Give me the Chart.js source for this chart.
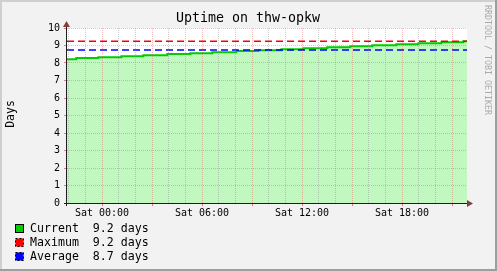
<!DOCTYPE html>
<html lang="en">
<head>
<meta charset="UTF-8">
<title>Uptime on thw-opkw</title>
<script src="https://cdnjs.cloudflare.com/ajax/libs/Chart.js/4.4.1/chart.umd.js"></script>
<style>
    html, body {
        margin: 0;
        padding: 0;
        background: #f2f2f2;
    }
    #wrap {
        width: 497px;
        height: 271px;
    }
</style>
</head>
<body>
<div id="wrap"><canvas id="uptimeChart" width="497" height="271"></canvas></div>
<script>
    // hours relative to Sat 00:00 where each uptime step starts
    const stepHours = [-2.1, -1.54, -0.22, 1.16, 2.48, 3.92, 5.30, 6.62, 8.06, 9.38,
                       10.76, 12.08, 13.52, 14.90, 16.22, 17.66, 18.98, 20.36, 21.68];
    // uptime in days for each step
    const uptimeDays = [8.22, 8.28, 8.33, 8.39, 8.45, 8.51, 8.56, 8.62, 8.68, 8.73,
                        8.79, 8.85, 8.90, 8.96, 9.02, 9.07, 9.13, 9.19, 9.24];
    const maxDays = 9.24;
    const avgDays = 8.74;
    const xMin = -2.1;
    const xMax = 21.9;
    const hourTicks = [-2, -1, 0, 1, 2, 3, 4, 5, 6, 7, 8, 9, 10, 11, 12, 13, 14, 15, 16, 17, 18, 19, 20, 21];
    const dayTicks = [0, 0.5, 1, 1.5, 2, 2.5, 3, 3.5, 4, 4.5, 5, 5.5, 6, 6.5, 7, 7.5, 8, 8.5, 9, 9.5, 10];
    const legendNames = ['Current', 'Maximum', 'Average'];
    const legendValues = ['9.2', '9.2', '8.7'];
    const legendColors = ['#00cc00', '#ff0000', '#0000ff'];

    const MONO = "'DejaVu Sans Mono', monospace";
    const minorGrid = 'rgba(143,143,143,0.45)';
    const majorGrid = 'rgba(222,79,79,0.38)';

    const rrdDecor = {
        id: 'rrdDecor',
        beforeDraw(chart) {
            const ctx = chart.ctx;
            const a = chart.chartArea;
            ctx.save();
            ctx.fillStyle = '#f2f2f2';
            ctx.fillRect(0, 0, chart.width, chart.height);
            // 3d frame
            ctx.fillStyle = '#cfcfcf';
            ctx.fillRect(0, 0, chart.width, 2);
            ctx.fillRect(0, 0, 2, chart.height);
            ctx.fillStyle = '#9e9e9e';
            ctx.fillRect(chart.width - 2, 0, 2, chart.height);
            ctx.fillRect(0, chart.height - 2, chart.width, 2);
            ctx.fillStyle = '#ffffff';
            ctx.fillRect(a.left, a.top, a.right - a.left, a.bottom - a.top);
            ctx.restore();
        },
        afterDraw(chart) {
            const ctx = chart.ctx;
            const a = chart.chartArea;
            ctx.save();

            // axes
            ctx.strokeStyle = '#1f1f1f';
            ctx.lineWidth = 1;
            ctx.beginPath();
            ctx.moveTo(a.left - 3, a.bottom + 0.5);
            ctx.lineTo(a.right + 2, a.bottom + 0.5);
            ctx.moveTo(a.left - 0.5, a.bottom + 3);
            ctx.lineTo(a.left - 0.5, a.top - 3);
            ctx.stroke();
            ctx.fillStyle = '#804040';
            ctx.beginPath();
            ctx.moveTo(a.right, a.bottom - 3);
            ctx.lineTo(a.right + 6, a.bottom + 0.5);
            ctx.lineTo(a.right, a.bottom + 4);
            ctx.closePath();
            ctx.fill();
            ctx.beginPath();
            ctx.moveTo(a.left - 4, a.top - 1);
            ctx.lineTo(a.left - 0.5, a.top - 7);
            ctx.lineTo(a.left + 3, a.top - 1);
            ctx.closePath();
            ctx.fill();

            // title
            ctx.fillStyle = '#000';
            ctx.font = '13.3px ' + MONO;
            ctx.textAlign = 'center';
            ctx.textBaseline = 'middle';
            ctx.fillText('Uptime on thw-opkw', 248, 18.5);

            // vertical label
            ctx.font = '11.5px ' + MONO;
            ctx.save();
            ctx.translate(11, 114);
            ctx.rotate(-Math.PI / 2);
            ctx.fillText('Days', 0, 0);
            ctx.restore();

            // watermark
            ctx.save();
            ctx.fillStyle = '#aaaaaa';
            ctx.font = '8.3px ' + MONO;
            ctx.translate(487, 60);
            ctx.rotate(Math.PI / 2);
            ctx.fillText('RRDTOOL / TOBI OETIKER', 0, 0);
            ctx.restore();

            // legend
            ctx.textAlign = 'left';
            ctx.font = '11.6px ' + MONO;
            legendNames.forEach((name, i) => {
                const cy = 228.5 + i * 14;
                ctx.fillStyle = legendColors[i];
                ctx.fillRect(15.5, cy - 4, 8, 8);
                ctx.strokeStyle = '#000';
                ctx.lineWidth = 1;
                ctx.setLineDash(i === 0 ? [] : [2, 2]);
                ctx.strokeRect(15.5, cy - 4, 8, 8);
                ctx.setLineDash([]);
                ctx.fillStyle = '#000';
                ctx.fillText(name.padEnd(9, ' ') + legendValues[i] + ' days', 30, cy + 0.5);
            });
            ctx.restore();
        }
    };

    const areaPoints = stepHours.map((h, i) => ({x: h, y: uptimeDays[i]}));
    areaPoints.push({x: xMax, y: uptimeDays[uptimeDays.length - 1]});

    new Chart(document.getElementById('uptimeChart'), {
        type: 'line',
        data: {
            datasets: [{
                label: 'Current',
                data: areaPoints,
                stepped: true,
                fill: 'origin',
                backgroundColor: '#c0f8c0',
                borderColor: '#00cc00',
                borderWidth: 2,
                pointRadius: 0,
                order: 3
            }, {
                label: 'Maximum',
                data: [{x: xMin, y: maxDays}, {x: xMax, y: maxDays}],
                borderColor: '#ff0000',
                borderDash: [7, 4],
                borderWidth: 1.5,
                fill: false,
                pointRadius: 0,
                order: 1
            }, {
                label: 'Average',
                data: [{x: xMin, y: avgDays}, {x: xMax, y: avgDays}],
                borderColor: '#0000ff',
                borderDash: [7, 4],
                borderWidth: 1.5,
                fill: false,
                pointRadius: 0,
                order: 2
            }]
        },
        options: {
            responsive: false,
            animation: false,
            layout: {
                padding: {left: 0, top: 28, right: 30, bottom: 48}
            },
            plugins: {
                legend: {display: false},
                title: {display: false},
                tooltip: {enabled: false}
            },
            scales: {
                x: {
                    type: 'linear',
                    min: xMin,
                    max: xMax,
                    afterBuildTicks: s => { s.ticks = hourTicks.map(v => ({value: v})); },
                    afterFit: s => { s.height = 20; },
                    border: {display: false, dash: [1, 1]},
                    grid: {
                        z: 1,
                        color: c => (c.tick.value % 3 === 0 ? majorGrid : minorGrid),
                        lineWidth: 1,
                        tickLength: 3,
                        tickColor: c => (c.tick.value % 3 === 0 ? 'rgba(222,79,79,0.7)' : 'rgba(0,0,0,0)')
                    },
                    ticks: {
                        autoSkip: false,
                        maxRotation: 0,
                        padding: 1,
                        color: '#000',
                        font: {family: MONO, size: 10},
                        callback: v => (v % 6 === 0 ? 'Sat ' + String(v).padStart(2, '0') + ':00' : '')
                    }
                },
                y: {
                    min: 0,
                    max: 10,
                    afterBuildTicks: s => { s.ticks = dayTicks.map(v => ({value: v})); },
                    afterFit: s => { s.width = 67; },
                    border: {display: false, dash: [1, 1]},
                    grid: {
                        z: 1,
                        color: c => (Number.isInteger(c.tick.value) ? majorGrid : minorGrid),
                        lineWidth: 1,
                        tickLength: 3,
                        tickColor: c => (Number.isInteger(c.tick.value) ? 'rgba(222,79,79,0.7)' : 'rgba(0,0,0,0)')
                    },
                    ticks: {
                        padding: 4,
                        color: '#000',
                        font: {family: MONO, size: 10},
                        callback: v => (Number.isInteger(v) ? String(v) : '')
                    }
                }
            }
        },
        plugins: [rrdDecor]
    });
</script>
</body>
</html>
